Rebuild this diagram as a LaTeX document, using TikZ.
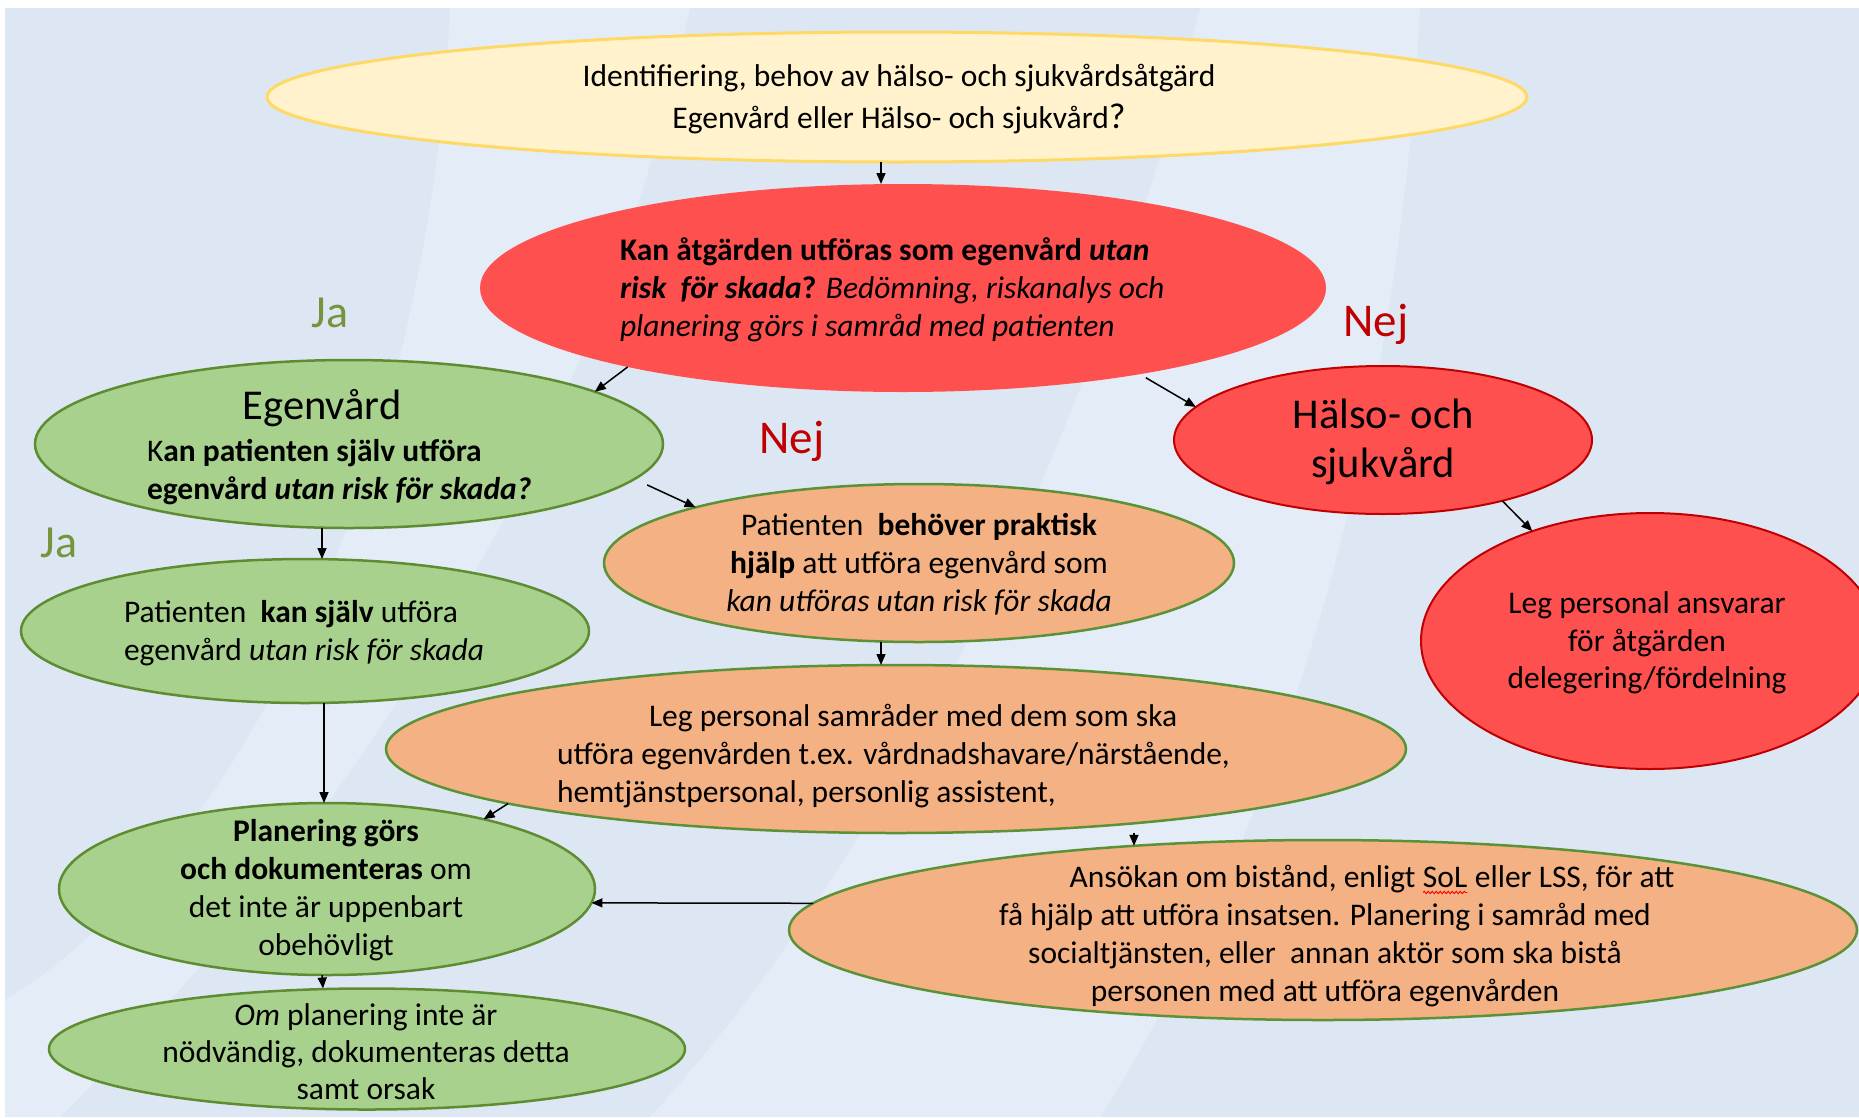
\documentclass[tikz,border=0pt]{standalone}
\usepackage{fontspec}
\setmainfont{Carlito}
\usetikzlibrary{shapes.geometric,arrows.meta,calc,decorations.pathmorphing}
\definecolor{bgc}{HTML}{DDE7F4}
\definecolor{bgl}{HTML}{E4ECF7}
\definecolor{yelfill}{HTML}{FFF2CC}
\definecolor{yeldraw}{HTML}{FFD966}
\definecolor{redfill}{HTML}{FF5050}
\definecolor{reddraw}{HTML}{C00000}
\definecolor{grnfill}{HTML}{A9D18E}
\definecolor{grndraw}{HTML}{5E8C31}
\definecolor{orgfill}{HTML}{F4B183}
\definecolor{orgdraw}{HTML}{5B9237}
\definecolor{jacol}{HTML}{77933C}
\definecolor{nejcol}{HTML}{C00000}
\newcommand\redwave[1]{\tikz[baseline=0pt,x=1pt,y=1pt]{\node[inner sep=0pt,outer sep=0pt,anchor=base] (solw) at (0,0) {#1};
  \draw[red, line width=0.9pt, decorate, decoration={snake, amplitude=1.2pt, segment length=4pt}] ([yshift=-5pt]solw.base west) -- ([yshift=-5pt]solw.base east);}}
\tikzset{
  shp/.style={ellipse, inner sep=0pt, outer sep=0pt},
  yel/.style={shp, fill=yelfill, draw=yeldraw, line width=3pt},
  redbig/.style={shp, fill=redfill},
  redsm/.style={shp, fill=redfill, draw=reddraw, line width=2pt},
  grn/.style={shp, fill=grnfill, draw=grndraw, line width=2.5pt},
  org/.style={shp, fill=orgfill, draw=orgdraw, line width=2.5pt},
  txt/.style={inner sep=0pt, outer sep=0pt, font=\fontsize{31.5}{38}\selectfont, text=black},
  bigtxt/.style={inner sep=0pt, outer sep=0pt, font=\fontsize{42.5}{49}\selectfont, text=black},
  jalab/.style={inner sep=0pt, font=\fontsize{46}{50}\selectfont, text=jacol},
  nejlab/.style={inner sep=0pt, font=\fontsize{47}{50}\selectfont, text=nejcol},
  arr/.style={-{Triangle[length=11pt,width=9pt]}, line width=1.5pt, black}
}
\begin{document}
\begin{tikzpicture}[x=1pt,y=-1pt]
\useasboundingbox (0,0) rectangle (1859,1117);
\fill[white] (0,0) rectangle (1859,1117);
\fill[bgc] (5,8) rectangle (1859,1117);
\fill[bgl] (450,8) .. controls (430,450) and (250,850) .. (5,1000) -- (5,1117) -- (60,1117) .. controls (330,850) and (600,450) .. (690,8) -- cycle;
\fill[bgl] (1200,8) .. controls (1080,500) and (850,900) .. (650,1117) -- (1100,1117) .. controls (1300,800) and (1400,400) .. (1420,8) -- cycle;

% shapes
\node[yel, minimum width=1260pt, minimum height=130pt] (top) at (897,97) {};
\node[redbig, minimum width=846pt, minimum height=208pt] (red) at (903,288) {};
\node[grn, minimum width=628pt, minimum height=168pt] (ego) at (349,444) {};
\node[redsm, minimum width=418pt, minimum height=148pt] (halso) at (1383,440) {};
\node[redsm, minimum width=458pt, minimum height=256pt] (leg) at (1650,641) {};
\node[grn, minimum width=568pt, minimum height=144pt] (patkan) at (305,631) {};
\node[org, minimum width=630pt, minimum height=158pt] (behov) at (919,563) {};
\node[org, minimum width=1020pt, minimum height=168pt] (samrad) at (896,749) {};
\node[org, minimum width=1068pt, minimum height=180pt] (ansokan) at (1323,930) {};
\node[grn, minimum width=536pt, minimum height=172pt] (plan) at (327,889) {};
\node[grn, minimum width=636pt, minimum height=121pt] (om) at (367,1049) {};

% texts
\node[txt, align=center, font=\fontsize{31.5}{42}\selectfont] (topt) at (899,99)
  {Identifiering, behov av hälso- och sjukvårdsåtgärd\\Egenvård eller Hälso- och sjukvård{\fontsize{36}{42}\selectfont ?}};
\node[txt, align=left, anchor=west] (redt) at (620,290)
  {\textbf{Kan åtgärden utföras som egenvård \textit{utan}}\\
   \textbf{\textit{risk\ \ för skada}?} \textit{Bedömning, riskanalys och}\\
   \textit{planering görs i samråd med patienten}};
\node[bigtxt] (egot1) at (322,408) {Egenvård};
\node[txt, align=left, anchor=west] (egot2) at (147,472)
  {K\textbf{an patienten själv utföra}\\\textbf{egenvård \textit{utan risk för skada?}}};
\node[bigtxt, align=center] (halsot) at (1383,442) {Hälso- och\\sjukvård};
\node[txt, align=center, font=\fontsize{31.5}{37.5}\selectfont] (legt) at (1647,643)
  {Leg personal ansvarar\\för åtgärden\\delegering/fördelning};
\node[txt, align=left, anchor=west] (patkant) at (124,633)
  {Patienten\ \ \textbf{kan själv} utföra\\egenvård \textit{utan risk för skada}};
\node[txt, align=center] (behovt) at (919,564)
  {Patienten\ \ \textbf{behöver praktisk}\\\textbf{hjälp} att utföra egenvård som\\\textit{kan utföras utan risk för skada}};
\node[txt, align=left, anchor=west] (samradt) at (557,756)
  {\hspace*{92pt}Leg personal samråder med dem som ska\\utföra egenvården t.ex. vårdnadshavare/närstående,\\hemtjänstpersonal, personlig assistent,};
\node[txt, align=center] (ansokant) at (1325,936)
  {\hspace*{94pt}Ansökan om bistånd, enligt \redwave{SoL} eller LSS, för att\\få hjälp att utföra insatsen. Planering i samråd med\\socialtjänsten, eller\ \ annan aktör som ska bistå\\personen med att utföra egenvården};
\node[txt, align=center] (plant) at (326,890)
  {\textbf{Planering görs}\\\textbf{och dokumenteras} om\\det inte är uppenbart\\obehövligt};
\node[txt, align=center, font=\fontsize{31.5}{37}\selectfont] (omt) at (366,1052)
  {\textit{Om} planering inte är\\nödvändig, dokumenteras detta\\samt orsak};

% labels
\node[jalab] (ja1) at (330,313) {Ja};
\node[jalab] (ja2) at (59,543) {Ja};
\node[nejlab] (nej1) at (1376,324) {Nej};
\node[nejlab] (nej2) at (792,441) {Nej};

% connectors
\draw[arr] ($(top.south)+(-16,0)$) -- ($(red.north)+(-22,0)$);
\draw[arr] (red.196) -- (ego.12);
\draw[arr, shorten <=7pt] (red.340) -- (halso.170);
\draw[arr] (halso.333) -- (leg.137);
\draw[arr] ($(ego.south)+(-27,0)$) -- ($(patkan.north)+(17,0)$);
\draw[arr, shorten <=14pt] (ego.353) -- (behov.166);
\draw[arr] ($(behov.south)+(-38,0)$) -- ($(samrad.north)+(-15,0)$);
\draw[arr] (samrad.188) -- (plan.24);
\draw[arr] ($(patkan.south)+(19,0)$) -- ($(plan.north)+(-3,0)$);
\draw[arr] (samrad.south -| ansokan.156) -- (ansokan.156);
\draw[arr] (ansokan.177) -- (plan.357);
\draw[arr] ($(plan.south)+(-5,0)$) -- ($(om.north)+(-44,0)$);
\end{tikzpicture}
\end{document}
